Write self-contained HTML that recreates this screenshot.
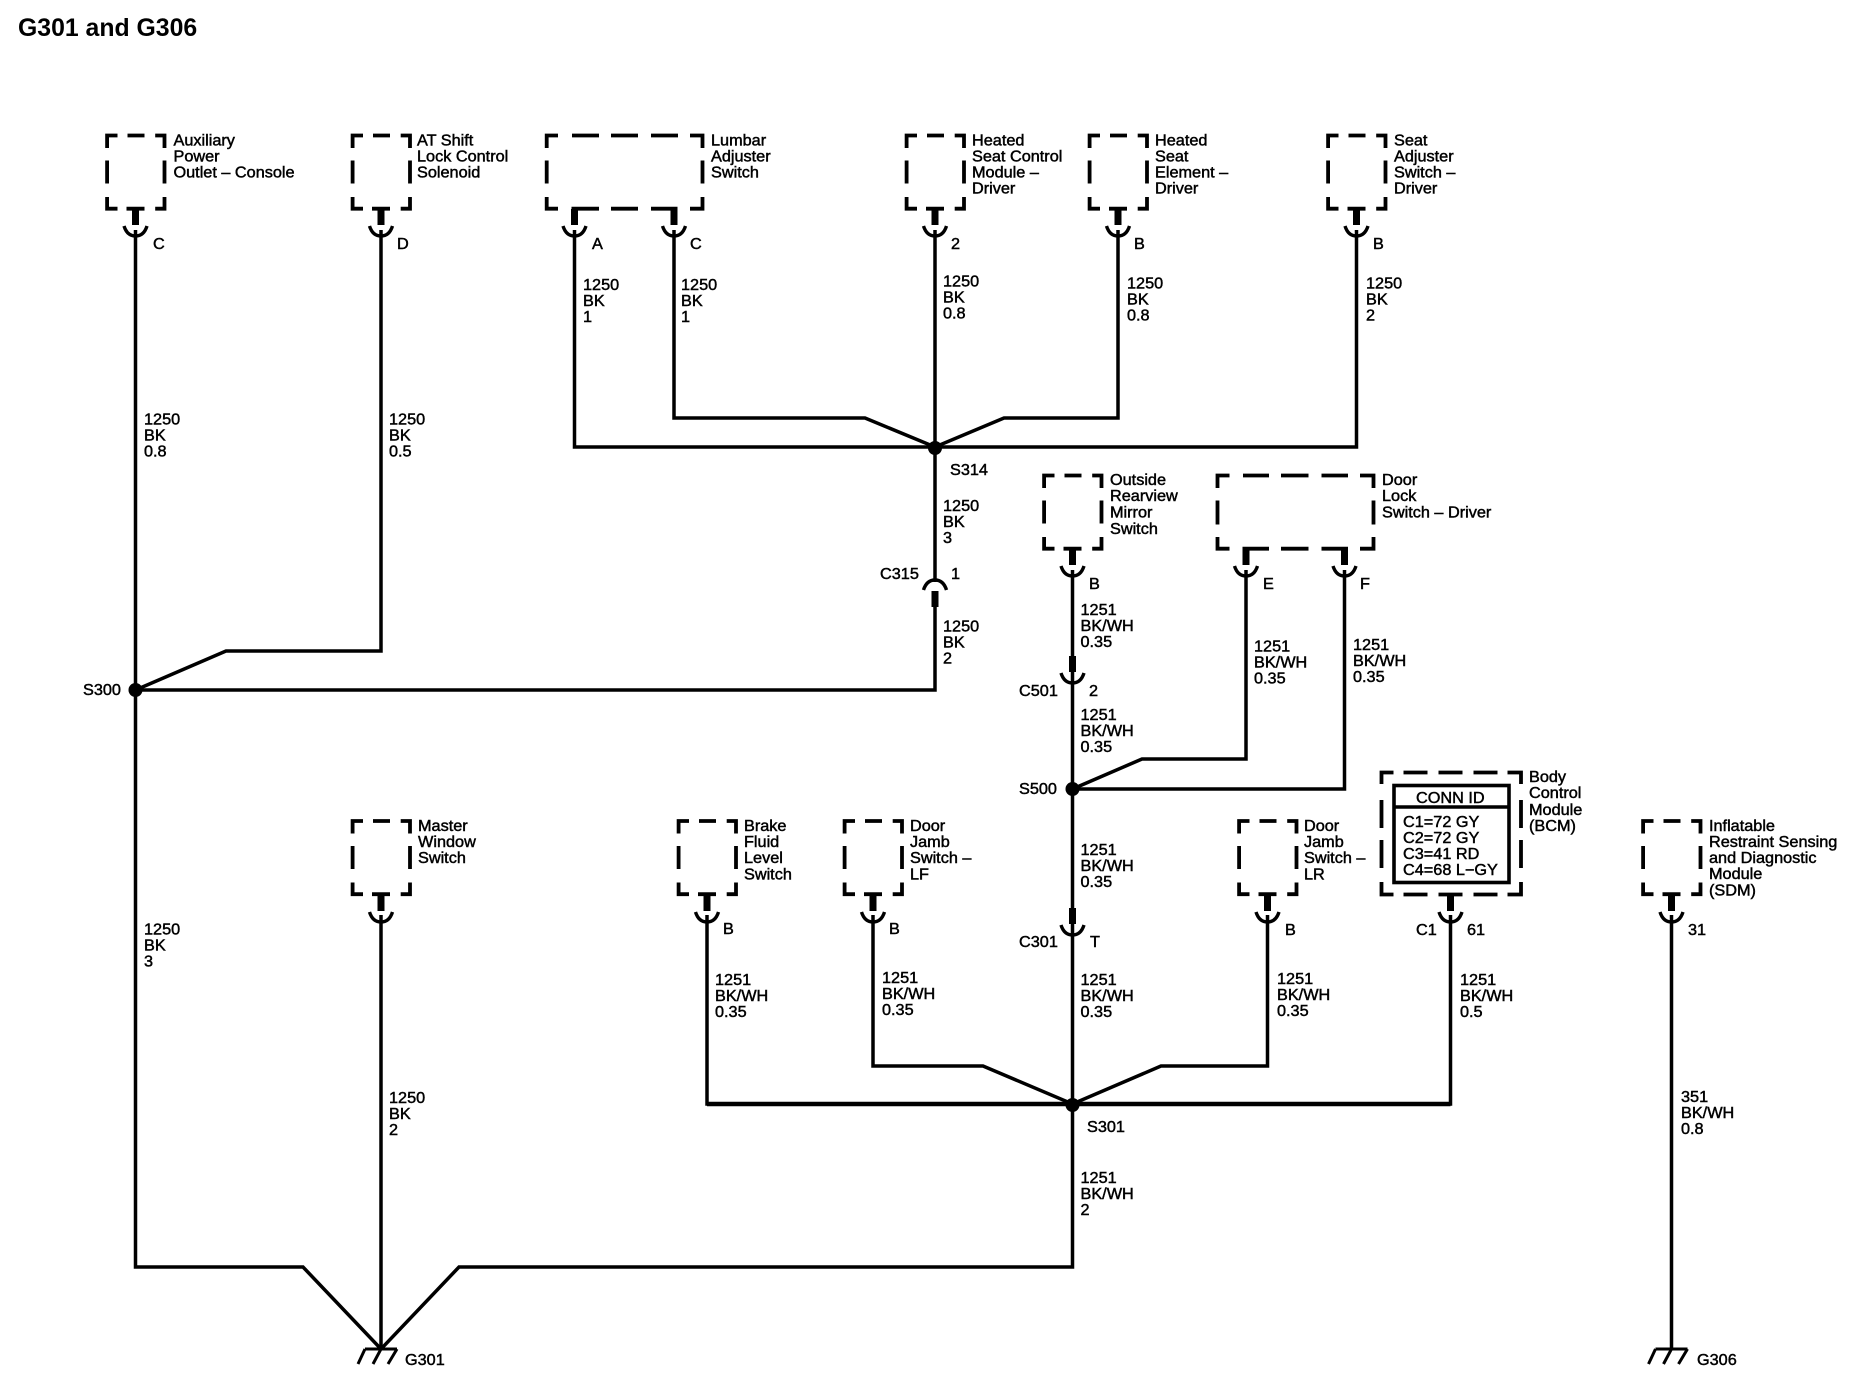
<!DOCTYPE html>
<html>
<head>
<meta charset="utf-8">
<title>G301 and G306</title>
<style>
html,body{margin:0;padding:0;background:#fff;width:1862px;height:1392px;overflow:hidden}
svg{display:block}
text{font-family:"Liberation Sans",Arial,sans-serif;font-size:15.5px;fill:#000;stroke:#000;stroke-width:.45px;transform-box:fill-box;transform-origin:0 0;transform:scaleX(1.05)}
.t{font-size:24.8px;font-weight:bold;stroke:none;transform:none}
.w{fill:none;stroke:#000;stroke-width:3.5;stroke-linejoin:miter}
.h{stroke-width:4.6}
.d{fill:none;stroke:#000;stroke-width:3.8}
</style>
</head>
<body>
<svg width="1862" height="1392" viewBox="0 0 1862 1392" xmlns="http://www.w3.org/2000/svg">
<defs>
<g id="b"><path class="d" d="M-18,.5H-28.4V13M-8,.5H9M19.7,.5H29V13M-28.4,25.5V48.5M29,25.5V48.5M-28.4,62V73.7H-18M-9,73.7H9M19.7,73.7H29V62"/></g>
<g id="c"><path d="M0,0V16" fill="none" stroke="#000" stroke-width="7"/><path d="M-11.5,17C-9,25 -4,27 0,27C4,27 9,25 11.5,17" fill="none" stroke="#000" stroke-width="3.4"/></g>
<g id="g"><path d="M-16,0H16M-16,0L-23,15M0,0L-8,15M16,0L7,15" fill="none" stroke="#000" stroke-width="3"/></g>
</defs>

<text class="t" x="18" y="36">G301 and G306</text>

<!-- wires -->
<path class="w" d="M135.5,230V1267H303L381,1349"/>
<path class="w" d="M381,230V651H226L135.5,690"/>
<path class="w" d="M135.5,690H935V607"/>
<path class="w" d="M935,230V582"/>
<path class="w" d="M574.5,230V447H1356.5V230"/>
<path class="w" d="M674,230V418H865L935,447L1004,418H1118V230"/>
<path class="w" d="M1072.5,570V1267H459L381,1349"/>
<path class="w" d="M1072.5,789L1142,759H1246V570"/>
<path class="w" d="M1072.5,789H1344.5V570"/>
<path class="w" d="M707,915V1104H1450.5V915"/>
<path class="w h" d="M707,1104H1450.5"/>
<path class="w" d="M873,915V1066H983L1072.5,1104L1161,1066H1267.5V915"/>
<path class="w" d="M381,915V1349"/>
<path class="w" d="M1671.5,915V1349"/>

<!-- splices -->
<circle cx="935" cy="448" r="7"/>
<circle cx="135.5" cy="690" r="7"/>
<circle cx="1072.5" cy="789" r="7"/>
<circle cx="1072.5" cy="1105" r="7"/>

<!-- grounds -->
<use href="#g" x="381" y="1349"/>
<use href="#g" x="1671.5" y="1349"/>

<!-- top row boxes -->
<use href="#b" x="135.5" y="135"/><use href="#c" x="135.5" y="209"/>
<use href="#b" x="381" y="135"/><use href="#c" x="381" y="209"/>
<use href="#b" x="935" y="135"/><use href="#c" x="935" y="209"/>
<use href="#b" x="1118" y="135"/><use href="#c" x="1118" y="209"/>
<use href="#b" x="1356.5" y="135"/><use href="#c" x="1356.5" y="209"/>
<!-- lumbar -->
<path class="d" d="M558,135.5H546.7V148M572,135.5H599M611,135.5H638M651,135.5H678M690,135.5H702.5V148M546.7,160.5V183.5M702.5,160.5V183.5M546.7,197V208.7H558M571.5,208.7H599M611,208.7H638M651,208.7H677.5M690,208.7H702.5V197"/>
<use href="#c" x="574.5" y="209"/><use href="#c" x="674" y="209"/>

<!-- middle boxes -->
<use href="#b" x="1072.5" y="475"/><use href="#c" x="1072.5" y="549"/>
<path class="d" d="M1229.5,475.5H1217.5V488M1243,475.5H1269M1281,475.5H1308.5M1321.5,475.5H1348M1360,475.5H1373.5V488M1217.5,500.5V524.5M1373.5,500.5V524.5M1217.5,537V548.7H1229.5M1242.5,548.7H1269M1281,548.7H1308.5M1321.5,548.7H1348M1360,548.7H1373.5V537"/>
<use href="#c" x="1246" y="549"/><use href="#c" x="1344.5" y="549"/>

<!-- inline connectors -->
<use href="#c" x="1072.5" y="656"/>
<use href="#c" x="1072.5" y="908"/>
<use href="#c" transform="translate(935,607) scale(1,-1)"/>

<!-- lower boxes -->
<use href="#b" x="381" y="820.5"/><use href="#c" x="381" y="895"/>
<use href="#b" x="707" y="820.5"/><use href="#c" x="707" y="895"/>
<use href="#b" x="873" y="820.5"/><use href="#c" x="873" y="895"/>
<use href="#b" x="1267.5" y="820.5"/><use href="#c" x="1267.5" y="895"/>
<use href="#b" x="1671.5" y="820.5"/><use href="#c" x="1671.5" y="895"/>

<!-- BCM -->
<g transform="translate(-.5,0)">
<path class="d" d="M1394,772.5H1382V784M1404,772.5H1428M1439,772.5H1463M1474,772.5H1498M1508,772.5H1521.5V784M1382,800V828M1382,840V868M1382,882V894.5H1394M1521.5,800V828M1521.5,840V868M1521.5,882V894.5H1508M1404,894.5H1428M1439,894.5H1463M1474,894.5H1498"/>
<rect x="1394.5" y="785.5" width="115" height="97" fill="none" stroke="#000" stroke-width="3.6"/>
<path d="M1394,807H1510" stroke="#000" stroke-width="3.6"/>
</g>
<use href="#c" x="1450.5" y="895"/>
<text x="1416" y="803">CONN ID</text>
<text x="1403" y="827">C1=72 GY</text>
<text x="1403" y="843">C2=72 GY</text>
<text x="1403" y="859">C3=41 RD</text>
<text x="1403" y="875">C4=68 L−GY</text>

<!-- component labels -->
<text x="173.5" y="145.5">Auxiliary</text><text x="173.5" y="161.5">Power</text><text x="173.5" y="177.5">Outlet – Console</text>
<text x="417" y="145.5">AT Shift</text><text x="417" y="161.5">Lock Control</text><text x="417" y="177.5">Solenoid</text>
<text x="711" y="145.5">Lumbar</text><text x="711" y="161.5">Adjuster</text><text x="711" y="177.5">Switch</text>
<text x="972" y="145.5">Heated</text><text x="972" y="161.5">Seat Control</text><text x="972" y="177.5">Module –</text><text x="972" y="193.5">Driver</text>
<text x="1155" y="145.5">Heated</text><text x="1155" y="161.5">Seat</text><text x="1155" y="177.5">Element –</text><text x="1155" y="193.5">Driver</text>
<text x="1394" y="145.5">Seat</text><text x="1394" y="161.5">Adjuster</text><text x="1394" y="177.5">Switch –</text><text x="1394" y="193.5">Driver</text>
<text x="1110" y="485">Outside</text><text x="1110" y="501">Rearview</text><text x="1110" y="517.5">Mirror</text><text x="1110" y="534">Switch</text>
<text x="1382" y="485">Door</text><text x="1382" y="501">Lock</text><text x="1382" y="517.5">Switch – Driver</text>
<text x="418" y="831">Master</text><text x="418" y="847">Window</text><text x="418" y="863">Switch</text>
<text x="744" y="831">Brake</text><text x="744" y="847">Fluid</text><text x="744" y="863">Level</text><text x="744" y="879.5">Switch</text>
<text x="910" y="831">Door</text><text x="910" y="847">Jamb</text><text x="910" y="863">Switch –</text><text x="910" y="879.5">LF</text>
<text x="1304" y="831">Door</text><text x="1304" y="847">Jamb</text><text x="1304" y="863">Switch –</text><text x="1304" y="879.5">LR</text>
<text x="1529" y="782">Body</text><text x="1529" y="798">Control</text><text x="1529" y="815">Module</text><text x="1529" y="831">(BCM)</text>
<text x="1709" y="831">Inflatable</text><text x="1709" y="847">Restraint Sensing</text><text x="1709" y="863">and Diagnostic</text><text x="1709" y="879">Module</text><text x="1709" y="895.5">(SDM)</text>

<!-- pin labels -->
<text x="153" y="249">C</text>
<text x="397" y="249">D</text>
<text x="592" y="249">A</text>
<text x="690" y="249">C</text>
<text x="951" y="249">2</text>
<text x="1134" y="249">B</text>
<text x="1373" y="249">B</text>
<text x="1089" y="589">B</text>
<text x="1263" y="589">E</text>
<text x="1360" y="589">F</text>
<text x="723" y="934">B</text>
<text x="889" y="934">B</text>
<text x="1285" y="935">B</text>
<text x="1416" y="935">C1</text>
<text x="1467" y="935">61</text>
<text x="1688" y="935">31</text>

<!-- connector / splice labels -->
<text x="950" y="475">S314</text>
<text x="880" y="579">C315</text><text x="951" y="579">1</text>
<text x="1019" y="696">C501</text><text x="1089" y="696">2</text>
<text x="1019" y="794">S500</text>
<text x="83" y="695">S300</text>
<text x="1019" y="947">C301</text><text x="1090" y="947">T</text>
<text x="1087" y="1132">S301</text>
<text x="405" y="1365">G301</text>
<text x="1697" y="1365">G306</text>

<!-- wire labels -->
<text x="144" y="424.5">1250</text><text x="144" y="440.5">BK</text><text x="144" y="456.5">0.8</text>
<text x="389" y="424.5">1250</text><text x="389" y="440.5">BK</text><text x="389" y="456.5">0.5</text>
<text x="583" y="290">1250</text><text x="583" y="306">BK</text><text x="583" y="322">1</text>
<text x="681" y="290">1250</text><text x="681" y="306">BK</text><text x="681" y="322">1</text>
<text x="943" y="286.5">1250</text><text x="943" y="302.5">BK</text><text x="943" y="318.5">0.8</text>
<text x="1127" y="288.5">1250</text><text x="1127" y="304.5">BK</text><text x="1127" y="320.5">0.8</text>
<text x="1366" y="288.5">1250</text><text x="1366" y="304.5">BK</text><text x="1366" y="320.5">2</text>
<text x="943" y="511">1250</text><text x="943" y="527">BK</text><text x="943" y="543">3</text>
<text x="943" y="631.5">1250</text><text x="943" y="647.5">BK</text><text x="943" y="663.5">2</text>
<text x="1080.5" y="615">1251</text><text x="1080.5" y="631">BK/WH</text><text x="1080.5" y="647">0.35</text>
<text x="1080.5" y="720">1251</text><text x="1080.5" y="736">BK/WH</text><text x="1080.5" y="752">0.35</text>
<text x="1254" y="651.5">1251</text><text x="1254" y="667.5">BK/WH</text><text x="1254" y="683.5">0.35</text>
<text x="1353" y="650">1251</text><text x="1353" y="666">BK/WH</text><text x="1353" y="682">0.35</text>
<text x="1080.5" y="855">1251</text><text x="1080.5" y="871">BK/WH</text><text x="1080.5" y="887">0.35</text>
<text x="715" y="985">1251</text><text x="715" y="1001">BK/WH</text><text x="715" y="1017">0.35</text>
<text x="882" y="983">1251</text><text x="882" y="999">BK/WH</text><text x="882" y="1015">0.35</text>
<text x="1080.5" y="985">1251</text><text x="1080.5" y="1001">BK/WH</text><text x="1080.5" y="1017">0.35</text>
<text x="1277" y="984">1251</text><text x="1277" y="1000">BK/WH</text><text x="1277" y="1016">0.35</text>
<text x="1460" y="985">1251</text><text x="1460" y="1001">BK/WH</text><text x="1460" y="1017">0.5</text>
<text x="1681" y="1102">351</text><text x="1681" y="1118">BK/WH</text><text x="1681" y="1134">0.8</text>
<text x="389" y="1103">1250</text><text x="389" y="1119">BK</text><text x="389" y="1135">2</text>
<text x="144" y="934.5">1250</text><text x="144" y="950.5">BK</text><text x="144" y="966.5">3</text>
<text x="1080.5" y="1183">1251</text><text x="1080.5" y="1199">BK/WH</text><text x="1080.5" y="1215">2</text>
</svg>
</body>
</html>
